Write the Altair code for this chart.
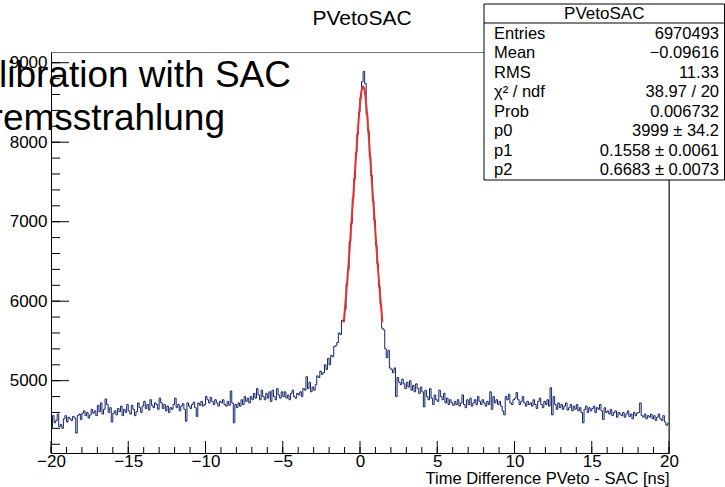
import altair as alt
import pandas as pd

# ---------------- data ----------------
counts = [
    4410, 4560, 4470, 4500, 4580, 4420, 4450, 4400, 4520, 4560,
    4480, 4540, 4520, 4500, 4550, 4530, 4340, 4560, 4580, 4510,
    4590, 4620, 4560, 4600, 4530, 4570, 4640, 4590, 4620, 4560,
    4690, 4610, 4720, 4580, 4640, 4770, 4700, 4600, 4660, 4480,
    4590, 4620, 4570, 4650, 4610, 4680, 4560, 4640, 4600, 4700,
    4620, 4580, 4690, 4640, 4560, 4610, 4720, 4660, 4600, 4680,
    4740, 4650, 4700, 4630, 4760, 4690, 4660, 4720, 4700, 4640,
    4780, 4720, 4650, 4700, 4620, 4680, 4600, 4660, 4640, 4700,
    4780, 4660, 4700, 4620, 4680, 4710, 4640, 4490, 4720, 4680,
    4650, 4700, 4730, 4660, 4550, 4720, 4690, 4740, 4680, 4700,
    4800, 4760, 4720, 4790, 4740, 4700, 4760, 4720, 4680, 4740,
    4720, 4760, 4700, 4680, 4740, 4690, 4870, 4720, 4470, 4700,
    4660, 4720, 4680, 4760, 4700, 4800, 4740, 4780, 4720, 4800,
    4760, 4840, 4780, 4900, 4820, 4760, 4880, 4800, 4760, 4840,
    4780, 4860, 4740, 4880, 4800, 4760, 4900, 4820, 4780, 4860,
    4800, 4860, 4780, 4820, 4760, 4840, 4880, 4800, 4780, 4840,
    4820, 4860, 4800, 4900, 4880, 5050, 4900, 4980, 4860, 4920,
    4880, 4950, 5060, 5040, 5120, 5080, 5100, 5200, 5140, 5280,
    5200, 5320, 5300, 5430, 5440, 5480, 5600, 5580, 5760, 5740,
    5900, 6220, 6400, 6750, 6980, 7300, 7540, 7870, 8100, 8380,
    8560, 8760, 8890, 8740, 8350, 8140, 7820, 7580, 7260, 7020,
    6700, 6470, 6180, 5960, 5660,
    5640, 5400, 5290, 5380, 5160,
    5140, 5100, 5160, 4800, 5040, 4980, 4950, 5020, 4960, 4900,
    4980, 4920, 5000, 4880, 4940, 4860, 4960, 4900, 4840, 4920,
    4860, 4670, 4880, 4800, 4760, 4900, 4780, 4700, 4820, 4760,
    4740, 4880, 4800, 4760, 4840, 4720, 4780, 4700, 4760, 4720,
    4690, 4740, 4700, 4760, 4680, 4720, 4820, 4700, 4660, 4760,
    4700, 4780, 4680, 4720, 4760, 4700, 4800, 4740, 4700, 4760,
    4720, 4680, 4740, 4700, 4860, 4640, 4800, 4720, 4760, 4700,
    4740, 4680, 4620, 4570, 4800, 4760, 4830, 4720, 4700, 4760,
    4780, 4850, 4760, 4700, 4740, 4800, 4720, 4680, 4740, 4700,
    4720, 4680, 4760, 4700, 4650, 4740, 4780, 4700, 4660, 4740,
    4700, 4760, 4680, 4910, 4570, 4800, 4700, 4640, 4720, 4660,
    4700, 4640, 4680, 4720, 4630, 4660, 4700, 4620, 4680, 4640,
    4700, 4620, 4660, 4600, 4470, 4640, 4680, 4600, 4660, 4620,
    4650, 4680, 4600, 4660, 4640, 4700, 4620, 4510, 4660, 4600,
    4620, 4580, 4640, 4560, 4600, 4620, 4540, 4600, 4580, 4560,
    4600, 4540, 4580, 4620, 4550, 4580, 4520, 4600, 4560, 4590,
    4600, 4720, 4560, 4540, 4580, 4520, 4560, 4540, 4580, 4520,
    4560, 4500, 4540, 4580, 4520, 4500, 4560, 4480, 4440, 4460,
]
assert len(counts) == 400
bin_width = 0.1
x_min, x_max = -20, 20

fit_x = [-1.05, -1.0, -0.9, -0.8, -0.7, -0.6, -0.5, -0.4, -0.3, -0.2, -0.1, 0.0,
         0.1, 0.2, 0.3, 0.4, 0.5, 0.6, 0.7, 0.8, 0.9, 1.0, 1.1, 1.2, 1.3, 1.4, 1.45]
fit_y = [5740, 5850, 6080, 6320, 6580, 6860, 7140, 7420, 7700, 7980, 8250, 8480,
         8650, 8700, 8650, 8480, 8250, 7980, 7700, 7420, 7140, 6860, 6580, 6320,
         6080, 5850, 5740]

x_major = [-20, -15, -10, -5, 0, 5, 10, 15, 20]
x_minor = list(range(-20, 21))
y_major = [5000, 6000, 7000, 8000, 9000]
y_minor = list(range(4200, 9001, 200))

hist_title = "PVetoSAC"
x_title = "Time Difference PVeto - SAC [ns]"
stat_names = ["Entries", "Mean", "RMS", "χ² / ndf", "Prob", "p0", "p1", "p2"]
stat_values = ["6970493", "−0.09616", "11.33", "38.97 / 20", "0.006732",
               "3999 ± 34.2", "0.1558 ± 0.0061", "0.6683 ± 0.0073"]
overlay_lines = ["Calibration with SAC", "Bremsstrahlung"]

# ---------------- layout ----------------
FONT = "Liberation Sans"
W, H = 618, 401
PAD_L, PAD_T = 51, 52

xs = alt.Scale(domain=[x_min, x_max], nice=False, zero=False)
ys = alt.Scale(domain=[4090, 9135], nice=False, zero=False)

x_axis = alt.Axis(
    values=x_major, ticks=False, grid=False, format="d",
    domainColor="black", labelColor="black", labelFont=FONT, labelFontSize=17,
    labelPadding=0, labelFlush=False,
    title=x_title, titleFont=FONT, titleFontSize=16.5, titleFontWeight="normal",
    titleColor="black", titleAnchor="end", titleAlign="right",
    titleX=W, titleY=30, titleBaseline="alphabetic")
y_axis = alt.Axis(
    values=y_major, ticks=False, grid=False, format="d",
    domainColor="black", labelColor="black", labelFont=FONT, labelFontSize=17,
    labelPadding=4, title=None)

edges = [round(x_min + bin_width * i, 2) for i in range(len(counts) + 1)]
hist_df = pd.DataFrame({"x": edges, "y": counts + [counts[-1]]})
fit_df = pd.DataFrame({"x": fit_x, "y": fit_y})

hist = alt.Chart(hist_df).mark_line(
    interpolate="step-after", color="#13236b", strokeWidth=1
).encode(
    x=alt.X("x:Q", scale=xs, axis=x_axis),
    y=alt.Y("y:Q", scale=ys, axis=y_axis),
)

fit = alt.Chart(fit_df).mark_line(
    color="#e3342f", strokeWidth=2, interpolate="monotone"
).encode(
    x=alt.X("x:Q", scale=xs, axis=x_axis),
    y=alt.Y("y:Q", scale=ys, axis=y_axis),
)

ymaj = alt.Chart(pd.DataFrame({"y": y_major})).mark_rule(color="black", strokeWidth=1).encode(
    y=alt.Y("y:Q", scale=ys, axis=y_axis), x=alt.value(0), x2=alt.value(18))
ymin = alt.Chart(pd.DataFrame({"y": y_minor})).mark_rule(color="black", strokeWidth=1).encode(
    y=alt.Y("y:Q", scale=ys, axis=y_axis), x=alt.value(0), x2=alt.value(9))
xmaj = alt.Chart(pd.DataFrame({"x": x_major})).mark_rule(color="black", strokeWidth=1).encode(
    x=alt.X("x:Q", scale=xs, axis=x_axis), y=alt.value(H), y2=alt.value(H - 12))
xmin_ = alt.Chart(pd.DataFrame({"x": x_minor})).mark_rule(color="black", strokeWidth=1).encode(
    x=alt.X("x:Q", scale=xs, axis=x_axis), y=alt.value(H), y2=alt.value(H - 6))

# right frame edge drawn dark, as in the reference
right_edge = alt.Chart(pd.DataFrame({"a": [0]})).mark_rule(color="#222222", strokeWidth=1).encode(
    x=alt.value(W), y=alt.value(0), y2=alt.value(H))

layers = [hist, fit, ymin, ymaj, xmin_, xmaj, right_edge]

# main title
layers.append(
    alt.Chart(pd.DataFrame({"t": [hist_title]})).mark_text(
        font=FONT, fontSize=21, color="black", align="center", baseline="middle"
    ).encode(text="t:N", x=alt.value(362 - PAD_L), y=alt.value(19 - PAD_T))
)

# stats box
bx0, bx1, by0, by1 = 484 - PAD_L, 724.5 - PAD_L, 4 - PAD_T, 180 - PAD_T
layers.append(
    alt.Chart(pd.DataFrame({"a": [0]})).mark_rect(
        fill="white", stroke="black", strokeWidth=1
    ).encode(x=alt.value(bx0), x2=alt.value(bx1), y=alt.value(by0), y2=alt.value(by1))
)
layers.append(
    alt.Chart(pd.DataFrame({"a": [0]})).mark_rule(color="black", strokeWidth=1).encode(
        x=alt.value(bx0), x2=alt.value(bx1), y=alt.value(23 - PAD_T))
)
layers.append(
    alt.Chart(pd.DataFrame({"t": [hist_title]})).mark_text(
        font=FONT, fontSize=17, color="black", align="center", baseline="middle"
    ).encode(text="t:N", x=alt.value((bx0 + bx1) / 2), y=alt.value(14 - PAD_T))
)
for i, (nm, val) in enumerate(zip(stat_names, stat_values)):
    yy = 33.5 + 19.5 * i - PAD_T
    layers.append(
        alt.Chart(pd.DataFrame({"t": [nm]})).mark_text(
            font=FONT, fontSize=16.5, color="black", align="left", baseline="middle"
        ).encode(text="t:N", x=alt.value(494 - PAD_L), y=alt.value(yy))
    )
    layers.append(
        alt.Chart(pd.DataFrame({"t": [val]})).mark_text(
            font=FONT, fontSize=16.5, color="black", align="right", baseline="middle"
        ).encode(text="t:N", x=alt.value(719 - PAD_L), y=alt.value(yy))
    )

# overlay text (cut off at the left edge of the picture, as in the reference)
for txt, xr, yb in zip(overlay_lines, [291, 225], [87, 130]):
    layers.append(
        alt.Chart(pd.DataFrame({"t": [txt]})).mark_text(
            font=FONT, fontSize=37, color="black", align="right", baseline="alphabetic"
        ).encode(text="t:N", x=alt.value(xr - PAD_L), y=alt.value(yb - PAD_T))
    )

chart = alt.layer(*layers).properties(
    width=W, height=H,
    autosize=alt.AutoSizeParams(type="none"),
    padding={"left": PAD_L, "top": PAD_T, "right": 725 - PAD_L - W, "bottom": 487 - PAD_T - H},
    background="white",
).configure_view(stroke="#777777", strokeWidth=1)

chart.save("out.html", embed_options={"renderer": "svg", "actions": False})
